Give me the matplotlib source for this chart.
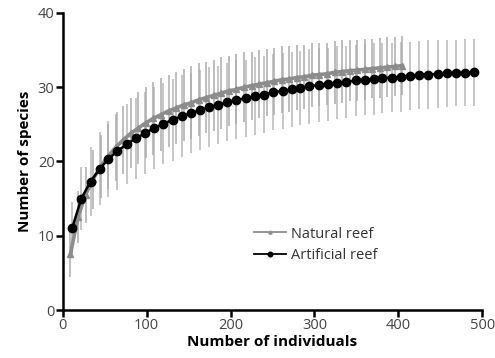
import matplotlib
matplotlib.use("Agg")
import matplotlib.pyplot as plt

# -------------------------------------------------------
# Daten
# -------------------------------------------------------
nat_x = [9, 18, 27, 36, 45, 54, 63, 72, 81, 90, 99, 108, 117, 126, 135,
         144, 153, 162, 171, 180, 189, 198, 207, 216, 225, 234, 243, 252, 261, 270,
         279, 288, 297, 306, 315, 324, 333, 342, 351, 360, 369, 378, 387, 396, 405]
nat_y = [7.5, 12.5, 15.5, 17.6, 19.3, 20.7, 21.9, 22.9, 23.8, 24.5, 25.2, 25.8, 26.3, 26.8, 27.2,
         27.6, 27.9, 28.3, 28.6, 28.9, 29.2, 29.5, 29.7, 30.0, 30.2, 30.4, 30.6, 30.8, 31.0, 31.1,
         31.3, 31.4, 31.6, 31.7, 31.8, 32.0, 32.1, 32.2, 32.3, 32.4, 32.5, 32.6, 32.7, 32.8, 32.9]
nat_err = [3.0, 3.5, 3.8, 4.0, 4.2, 4.4, 4.5, 4.6, 4.7, 4.8, 4.8, 4.9, 4.9, 4.9, 4.9,
           4.9, 4.9, 4.9, 4.8, 4.8, 4.8, 4.7, 4.7, 4.7, 4.6, 4.6, 4.5, 4.5, 4.5, 4.4,
           4.4, 4.3, 4.3, 4.3, 4.2, 4.2, 4.2, 4.1, 4.1, 4.1, 4.0, 4.0, 4.0, 4.0, 4.0]

art_x = [11, 22, 33, 44, 54, 65, 76, 87, 98, 109, 120, 131, 142, 153, 164,
         174, 185, 196, 207, 218, 229, 240, 251, 262, 273, 283, 294, 305, 316, 327,
         338, 349, 360, 371, 381, 392, 403, 414, 425, 436, 447, 458, 469, 480, 490]
art_y = [11.0, 15.0, 17.3, 19.0, 20.3, 21.4, 22.3, 23.1, 23.8, 24.5, 25.1, 25.6, 26.1, 26.5, 26.9,
         27.3, 27.6, 28.0, 28.3, 28.5, 28.8, 29.0, 29.3, 29.5, 29.7, 29.9, 30.1, 30.3, 30.4, 30.6,
         30.7, 30.9, 31.0, 31.1, 31.2, 31.3, 31.4, 31.5, 31.6, 31.7, 31.8, 31.85, 31.9, 31.95, 32.0]
art_err = [3.5, 4.2, 4.6, 4.9, 5.1, 5.3, 5.4, 5.5, 5.5, 5.5, 5.5, 5.5, 5.5, 5.4, 5.4,
           5.4, 5.3, 5.3, 5.3, 5.2, 5.2, 5.2, 5.1, 5.1, 5.1, 5.0, 5.0, 5.0, 4.9, 4.9,
           4.9, 4.8, 4.8, 4.8, 4.7, 4.7, 4.7, 4.6, 4.6, 4.6, 4.6, 4.5, 4.5, 4.5, 4.5]

# -------------------------------------------------------
# Plot
# -------------------------------------------------------
plt.rcParams["font.family"] = ["Open Sans", "DejaVu Sans"]

fig = plt.figure(figsize=(4.95, 3.58), dpi=100)
ax = fig.add_axes([0.127, 0.134, 0.847, 0.83])

# Fehlerbalken (hellgrau)
ax.errorbar(art_x, art_y, yerr=art_err, fmt="none", ecolor="#b8b8b8",
            elinewidth=1.1, capsize=0, zorder=1)
ax.errorbar(nat_x, nat_y, yerr=nat_err, fmt="none", ecolor="#acacac",
            elinewidth=1.1, capsize=0, zorder=1)

ax.plot(nat_x, nat_y, color="#8c8c8c", lw=2.6, marker="^", ms=4,
        label="Natural reef", zorder=3)
ax.plot(art_x, art_y, color="black", lw=1.8, marker="o", ms=6,
        label="Artificial reef", zorder=4)

ax.set_xlim(0, 500)
ax.set_ylim(0, 40)
ax.set_xticks([0, 100, 200, 300, 400, 500])
ax.set_yticks([0, 10, 20, 30, 40])

for s in ["top", "right"]:
    ax.spines[s].set_visible(False)
for s in ["left", "bottom"]:
    ax.spines[s].set_linewidth(1.8)
ax.tick_params(axis="both", width=1.8, length=5, labelsize=10.5,
               labelcolor="#444444", pad=1)

ax.set_xlabel("Number of individuals", fontsize=11, fontweight="bold", labelpad=1)
ax.set_ylabel("Number of species", fontsize=11, fontweight="bold", labelpad=4)

leg = ax.legend(loc="upper left", bbox_to_anchor=(0.425, 0.325), frameon=False,
                fontsize=10.5, handlelength=2.2, handletextpad=0.3,
                labelspacing=0.45, markerscale=0.55)
for t in leg.get_texts():
    t.set_color("#333333")
for ln in leg.get_lines():
    ln.set_linewidth(1.3)

fig.savefig("out.png", dpi=100)
